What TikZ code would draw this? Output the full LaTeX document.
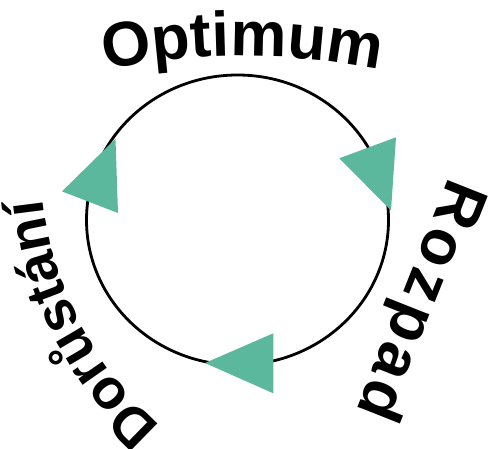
\documentclass[tikz,border=0pt]{standalone}
\usepackage{fontspec}
\newfontfamily\arb{Liberation Sans}
\usetikzlibrary{decorations.text}
\definecolor{tealgreen}{RGB}{92,184,157}
\tikzset{
  ring/.style={draw=black, line width=2.8pt},
  tri/.style={fill=tealgreen},
  arctext/.style 2 args={decorate, decoration={text along path, text align=center, text={|\arb\bfseries\fontsize{#1}{#1}\selectfont|#2}}}
}
\begin{document}
\begin{tikzpicture}[x=1pt,y=1pt]
\useasboundingbox (0,0) rectangle (489,448);
\coordinate (C) at (237.5,228);
\draw[ring] (C) ellipse [x radius=151, y radius=145];
% triangles
\coordinate (b1) at (205,85);
\coordinate (b2) at (273.3,114.7);
\coordinate (b3) at (273.3,54.7);
\fill[tri] (b1) -- (b2) -- (b3) -- cycle;
\coordinate (r1) at (339.3,289.7);
\coordinate (r2) at (396,310.7);
\coordinate (r3) at (391,237.5);
\fill[tri] (r1) -- (r2) -- (r3) -- cycle;
\coordinate (l1) at (115.5,309.2);
\coordinate (l2) at (62,256.6);
\coordinate (l3) at (118,235);
\fill[tri] (l1) -- (l2) -- (l3) -- cycle;
% texts
\coordinate (CO) at (242.5,-308);
\path[arctext={63}{Optimum}] (CO) ++(108:700) arc[start angle=108, end angle=72, radius=700];
\coordinate (rs) at (449.1,271.1);
\coordinate (re) at (355.9,36.4);
\path[arctext={63}{Rozpad}, decoration={text align=fit to path}] (rs) -- (re);
\coordinate (CD) at (389,285);
\path[arctext={56}{Dorůstání}] (CD) ++(252:348) arc[start angle=252, end angle=163, radius=348];
\end{tikzpicture}
\end{document}
